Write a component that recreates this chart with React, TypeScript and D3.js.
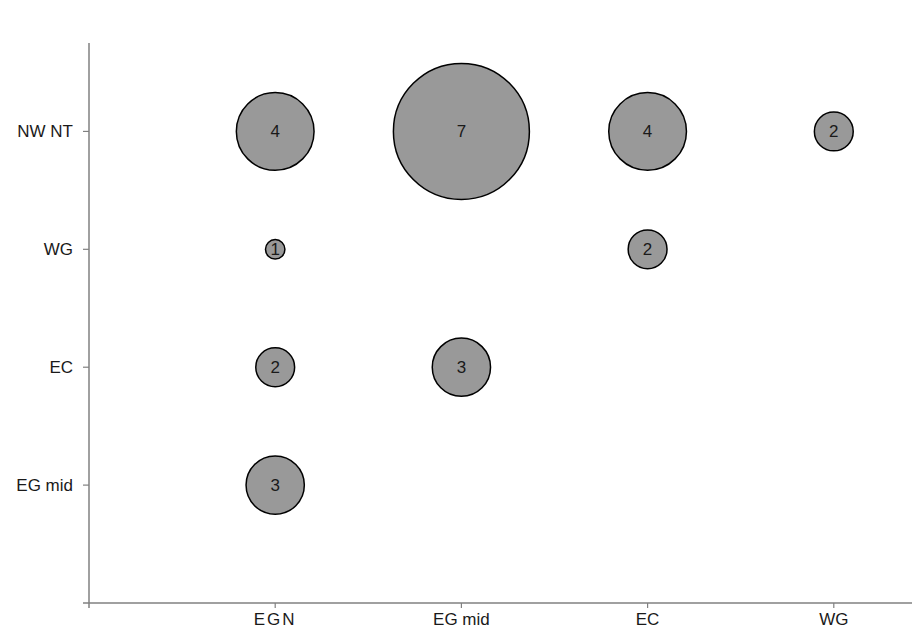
import React, { useEffect, useRef } from "react";
import * as d3 from "d3";

const xCategories = ["EGN", "EG mid", "EC", "WG"];
const yCategories = ["EG mid", "EC", "WG", "NW NT"];

// each bubble: x category, y category, count
const bubbleX = ["EGN", "EG mid", "EC", "WG", "EGN", "EC", "EGN", "EG mid", "EGN"];
const bubbleY = ["NW NT", "NW NT", "NW NT", "NW NT", "WG", "WG", "EC", "EC", "EG mid"];
const bubbleValues = [4, 7, 4, 2, 1, 2, 2, 3, 3];

const App = () => {
  const ref = useRef<SVGSVGElement | null>(null);

  useEffect(() => {
    if (!ref.current) return;
    const svg = d3.select(ref.current);
    svg.selectAll("*").remove();

    const width = 912;
    const left = 89;
    const bottom = 603;

    const x = d3.scaleLinear().domain([0, 4.42]).range([left, width]);
    const y = d3.scaleLinear().domain([0, 4.75]).range([bottom, 43]);
    const r = d3.scaleLinear().domain([0, 7]).range([0, 68]);

    const axisColor = "#808080";
    const font = "'Liberation Sans', Arial, sans-serif";
    const fs = 17;

    // y axis line
    svg.append("line")
      .attr("x1", left).attr("x2", left)
      .attr("y1", y(4.75)).attr("y2", bottom + 5)
      .attr("stroke", axisColor).attr("stroke-width", 1.5);

    // x axis line
    svg.append("line")
      .attr("x1", left - 6).attr("x2", width)
      .attr("y1", bottom).attr("y2", bottom)
      .attr("stroke", axisColor).attr("stroke-width", 1.5);

    // y ticks and labels
    yCategories.forEach((c, i) => {
      const yy = y(i + 1);
      svg.append("line")
        .attr("x1", left - 6).attr("x2", left)
        .attr("y1", yy).attr("y2", yy)
        .attr("stroke", axisColor).attr("stroke-width", 1.2);
      svg.append("text")
        .attr("x", 73).attr("y", yy + 6)
        .attr("text-anchor", "end")
        .attr("font-family", font).attr("font-size", fs)
        .attr("fill", "#1a1a1a")
        .text(c);
    });

    // x ticks and labels
    xCategories.forEach((c, i) => {
      const xx = x(i + 1);
      svg.append("line")
        .attr("x1", xx).attr("x2", xx)
        .attr("y1", bottom).attr("y2", bottom + 5)
        .attr("stroke", axisColor).attr("stroke-width", 1.2);
      svg.append("text")
        .attr("x", xx).attr("y", 625)
        .attr("text-anchor", "middle")
        .attr("font-family", font).attr("font-size", fs)
        .attr("letter-spacing", c === "EGN" ? 2 : 0)
        .attr("fill", "#1a1a1a")
        .text(c);
    });

    const data = bubbleValues.map((v, i) => ({
      xi: xCategories.indexOf(bubbleX[i]) + 1,
      yi: yCategories.indexOf(bubbleY[i]) + 1,
      v,
    }));

    const g = svg.append("g").selectAll("g").data(data).join("g");

    g.append("circle")
      .attr("cx", (d) => x(d.xi))
      .attr("cy", (d) => y(d.yi))
      .attr("r", (d) => r(d.v))
      .attr("fill", "#999999")
      .attr("stroke", "#000")
      .attr("stroke-width", 1.5);

    g.append("text")
      .attr("x", (d) => x(d.xi))
      .attr("y", (d) => y(d.yi) + 6)
      .attr("text-anchor", "middle")
      .attr("font-family", font)
      .attr("font-size", fs)
      .attr("fill", "#1a1a1a")
      .text((d) => d.v);
  }, []);

  return (
    <svg
      ref={ref}
      width={912}
      height={632}
      style={{ position: "absolute", left: 0, top: 0, background: "#fff" }}
    />
  );
};

export default App;
